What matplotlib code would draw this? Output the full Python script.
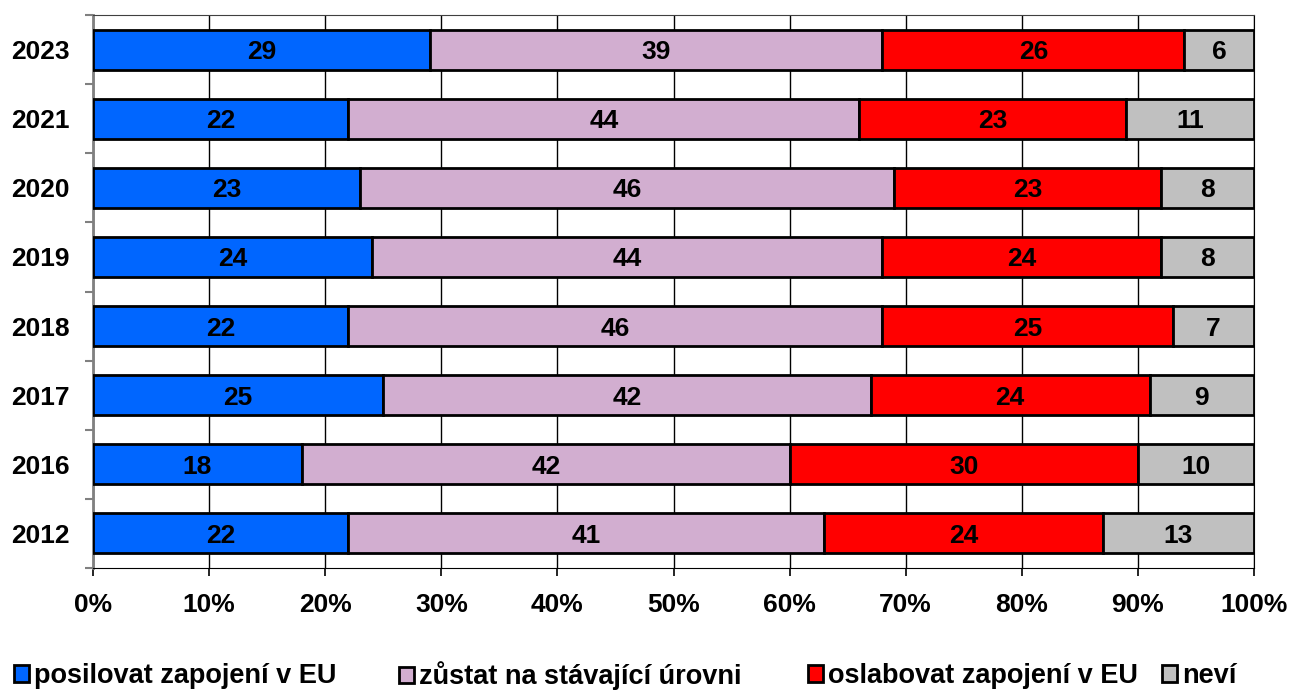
import matplotlib.pyplot as plt
import numpy as np

plt.rcParams['font.family'] = ['Liberation Sans', 'DejaVu Sans']
plt.rcParams['font.weight'] = 'bold'

# data (top to bottom as shown)
years = ['2023', '2021', '2020', '2019', '2018', '2017', '2016', '2012']
posilovat = [29, 22, 23, 24, 22, 25, 18, 22]
zustat = [39, 44, 46, 44, 46, 42, 42, 41]
oslabovat = [26, 23, 23, 24, 25, 24, 30, 24]
nevi = [6, 11, 8, 8, 7, 9, 10, 13]

series = [posilovat, zustat, oslabovat, nevi]
names = ['posilovat zapojení v EU', 'zůstat na stávající úrovni',
         'oslabovat zapojení v EU', 'neví']
colors = ['#0066FF', '#D2AED0', '#FF0000', '#C0C0C0']

fig = plt.figure(figsize=(12.91, 6.91), dpi=100)
ax = fig.add_axes([93/1291, 1 - 568/691, (1254-93)/1291, (568-15)/691])

y = np.arange(len(years))
left = np.zeros(len(years))
handles = []
for vals, name, col in zip(series, names, colors):
    vals = np.array(vals, dtype=float)
    b = ax.barh(y, vals, left=left, height=0.58, color=col,
                edgecolor='black', linewidth=2, label=name, zorder=3)
    handles.append(b)
    for yi, l, v in zip(y, left, vals):
        ax.text(l + v/2, yi, f'{int(v)}', ha='center', va='center_baseline',
                fontsize=19, fontweight='bold', zorder=4)
    left += vals

ax.set_xlim(0, 100)
ax.set_ylim(len(years) - 0.5, -0.5)
ax.set_xticks(np.arange(0, 101, 10))
ax.set_xticklabels([f'{t}%' for t in range(0, 101, 10)], fontsize=19, fontweight='bold')
ax.set_yticks(y)
ax.set_yticklabels(years, fontsize=19, fontweight='bold')
ax.set_yticks(np.arange(len(years) + 1) - 0.5, minor=True)
ax.tick_params(axis='y', which='major', length=0, pad=17)
ax.tick_params(axis='y', which='minor', length=6, color='#808080', width=1.5)
ax.tick_params(axis='x', length=6, width=1.2, pad=12)
ax.grid(axis='x', color='black', linewidth=1, zorder=0)
ax.spines['left'].set_color('#808080')
ax.spines['left'].set_linewidth(2)
ax.spines['top'].set_color('#404040')
ax.spines['right'].set_color('black')
ax.spines['bottom'].set_color('black')

# one legend entry per slot, like the original layout
legend_x = [14, 399, 808, 1162]
for h, name, lx in zip(handles, names, legend_x):
    fig.legend(handles=[h], labels=[name], loc='center left',
               bbox_to_anchor=(lx/1291, 15/691), frameon=False,
               handlelength=0.55, handleheight=0.55, handletextpad=0.2,
               borderpad=0, borderaxespad=0, prop={'weight': 'bold', 'size': 19.5})

fig.savefig('out.png', dpi=100)
